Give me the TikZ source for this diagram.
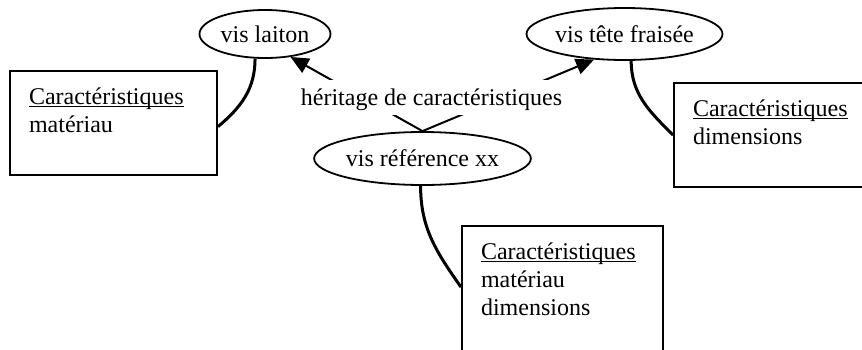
\documentclass[tikz,border=0pt]{standalone}
\usepackage{fontspec}
\setmainfont{Liberation Serif}
\usetikzlibrary{shapes.geometric,arrows.meta}

\newcommand{\souligne}[1]{\setbox0\hbox{#1}\rlap{\rule[-1.6pt]{\wd0}{0.5pt}}\box0}

\tikzstyle{classe} = [ellipse, draw, line width=0.9pt, inner sep=0pt]
\tikzstyle{carac} = [rectangle, draw, line width=1pt, anchor=north west, align=left,
    inner xsep=9.5pt, inner ysep=8pt, text height=8.5pt, text depth=27.5pt]
\tikzstyle{line} = [draw, line width=1pt, -{Triangle[length=9pt,width=8pt]}]
\tikzstyle{lien} = [draw, line width=1.5pt]

\begin{document}
\begin{tikzpicture}[x=0.5pt, y=0.5pt, font=\fontsize{12}{14}\selectfont]
    \useasboundingbox (0,0) rectangle (862,-349);
    \clip (0,0) rectangle (862,-349);

    \node [classe, minimum width=65.5pt, minimum height=24pt] (laiton) at (265,-34) {vis laiton};
    \node [classe, minimum width=88.5pt, minimum height=26pt] (tete) at (624.5,-34) {vis tête fraisée};
    \node [classe, minimum width=97.5pt, minimum height=26.5pt] (ref) at (422.5,-158.5) {vis référence xx};

    \node [carac, text width=84.5pt] (materiau) at (9,-70) {\souligne{Caractéristiques}\\matériau};
    \node [carac, text width=86pt] (dimensions) at (673,-82) {\souligne{Caractéristiques}\\dimensions};
    \node [carac, text width=81.5pt, text depth=45.5pt] (complet) at (461,-225) {\souligne{Caractéristiques}\\matériau\\dimensions};

    \path [line] (ref.north) -- (laiton.-42);
    \path [line] (ref.north) -- (tete.220);
    \node [fill=white, inner xsep=2pt, inner ysep=2.75pt, text height=10pt, text depth=2pt] (heritage) at (431.5,-97.5) {héritage de caractéristiques};

    \path [lien] (laiton.248) to[out=-90, in=40] (materiau.-2);
    \path [lien] (tete.284) to[out=-90, in=135] (dimensions.west);
    \path [lien] (ref.266) to[out=-90, in=125] (complet.175);
\end{tikzpicture}
\end{document}
